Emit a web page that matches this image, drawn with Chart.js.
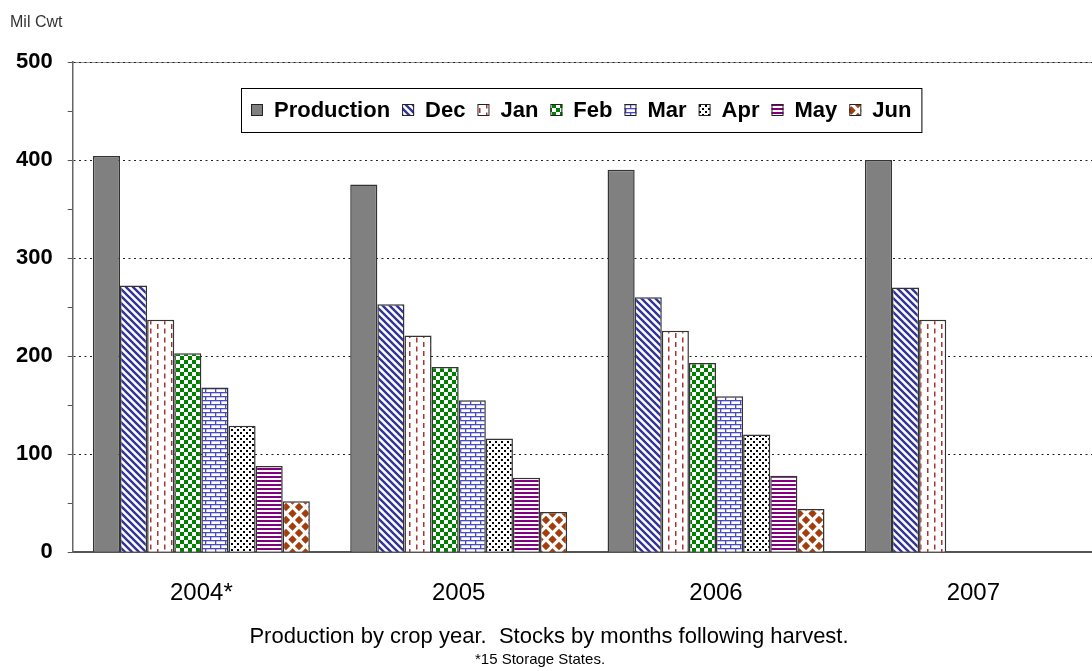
<!DOCTYPE html>
<html>
<head>
<meta charset="utf-8">
<title>Production and stocks by crop year</title>
<script src="https://cdn.jsdelivr.net/npm/chart.js@4/dist/chart.umd.min.js"></script>
<style>
  html, body { margin: 0; padding: 0; background: #fff; overflow: hidden; }
  #wrap { width: 1102px; height: 671px; }
</style>
</head>
<body>
<div id="wrap"><canvas id="stocksChart"></canvas></div>
<script>
// crop years and series (Mil Cwt)
const categories = ["2004*", "2005", "2006", "2007"];
const seriesNames = ["Production", "Dec", "Jan", "Feb", "Mar", "Apr", "May", "Jun"];
const production = [404, 375, 390, 400];
const dec = [272, 253, 260, 270];
const jan = [237, 221, 226, 237];
const feb = [203, 189, 193, null];
const mar = [168, 155, 159, null];
const apr = [129, 116, 120, null];
const may = [88, 76, 78, null];
const jun = [52, 41, 44, null];
const yTicks = [0, 100, 200, 300, 400, 500];

const FONT = "'Liberation Sans', Arial, sans-serif";
const canvas = document.getElementById("stocksChart");
const mainCtx = canvas.getContext("2d");

function makePattern(w, h, draw) {
    const c = document.createElement("canvas");
    c.width = w;
    c.height = h;
    const p = c.getContext("2d");
    p.fillStyle = "#fff";
    p.fillRect(0, 0, w, h);
    draw(p, w, h);
    return mainCtx.createPattern(c, "repeat");
}

// fills that imitate the old spreadsheet hatch patterns
const fills = [
    "#808080",
    makePattern(7, 7, (p) => {
        p.strokeStyle = "#333399";
        p.lineWidth = 2.4;
        p.beginPath();
        for (let k = -7; k <= 7; k += 7) {
            p.moveTo(k - 1, -1);
            p.lineTo(k + 8, 8);
        }
        p.stroke();
    }),
    makePattern(14, 9, (p) => {
        p.fillStyle = "#a83434";
        p.fillRect(3, 0, 1.5, 5);
        p.fillRect(10, 4.5, 1.5, 4.5);
        p.fillRect(10, 0, 1.5, 0.5);
    }),
    makePattern(8, 8, (p) => {
        p.fillStyle = "#008000";
        p.fillRect(0, 0, 4, 4);
        p.fillRect(4, 4, 4, 4);
    }),
    makePattern(10, 8, (p) => {
        p.fillStyle = "#4b4bc0";
        p.fillRect(0, 0, 10, 1.3);
        p.fillRect(0, 4, 10, 1.3);
        p.fillRect(0, 0, 1.3, 4);
        p.fillRect(5, 4, 1.3, 4);
    }),
    makePattern(6, 6, (p) => {
        p.fillStyle = "#000";
        p.fillRect(0, 0, 2, 2);
        p.fillRect(3, 3, 2, 2);
    }),
    makePattern(4, 4, (p) => {
        p.fillStyle = "#800080";
        p.fillRect(0, 0, 4, 2);
    }),
    makePattern(13, 13, (p) => {
        p.fillStyle = "#a33d0b";
        const r = 4.2;
        [[0, 0], [13, 0], [0, 13], [13, 13], [6.5, 6.5]].forEach(([cx, cy]) => {
            p.beginPath();
            p.moveTo(cx, cy - r);
            p.lineTo(cx + r, cy);
            p.lineTo(cx, cy + r);
            p.lineTo(cx - r, cy);
            p.closePath();
            p.fill();
        });
    })
];

const seriesValues = [production, dec, jan, feb, mar, apr, may, jun];

const datasets = seriesNames.map((name, i) => ({
    label: name,
    data: seriesValues[i],
    backgroundColor: fills[i],
    borderColor: "#333",
    borderWidth: 1.5,
    categoryPercentage: 0.843,
    barPercentage: 1.0
}));

// legend drawn as a framed row inside the plot area
const boxLegend = {
    id: "boxLegend",
    afterDraw(chart) {
        const ctx = chart.ctx;
        const area = chart.chartArea;
        const sets = chart.data.datasets;
        const sq = 12, gapIn = 11, gapOut = 12, padX = 10, h = 44;
        ctx.save();
        ctx.font = "bold 22px " + FONT;
        const widths = sets.map(ds => ctx.measureText(ds.label).width);
        let total = padX * 2;
        widths.forEach((w, i) => {
            total += sq + gapIn + w + (i < sets.length - 1 ? gapOut : 0);
        });
        const x0 = Math.round(581 - total / 2);
        const y0 = area.top + 26;
        ctx.fillStyle = "#fff";
        ctx.fillRect(x0, y0, total, h);
        ctx.strokeStyle = "#000";
        ctx.lineWidth = 1;
        ctx.strokeRect(x0 + 0.5, y0 + 0.5, total, h);
        let x = x0 + padX;
        const cy = y0 + h / 2;
        ctx.textBaseline = "middle";
        ctx.textAlign = "left";
        sets.forEach((ds, i) => {
            ctx.fillStyle = ds.backgroundColor;
            ctx.fillRect(x, cy - sq / 2, sq, sq);
            ctx.strokeStyle = "#222";
            ctx.strokeRect(x + 0.5, cy - sq / 2 + 0.5, sq - 1, sq - 1);
            x += sq + gapIn;
            ctx.fillStyle = "#000";
            ctx.fillText(ds.label, x, cy + 1);
            x += widths[i] + gapOut;
        });
        ctx.restore();
    }
};

// gray frame line at the top of the plot, under the dotted grid
const plotFrame = {
    id: "plotFrame",
    beforeDraw(chart) {
        const ctx = chart.ctx;
        const a = chart.chartArea;
        ctx.save();
        ctx.strokeStyle = "#999";
        ctx.lineWidth = 1;
        ctx.beginPath();
        ctx.moveTo(a.left, a.top + 0.5);
        ctx.lineTo(a.right, a.top + 0.5);
        ctx.stroke();
        ctx.restore();
    }
};

// unit label and the two footnote lines
const notes = {
    id: "notes",
    afterDraw(chart) {
        const ctx = chart.ctx;
        ctx.save();
        ctx.fillStyle = "#333";
        ctx.font = "16px " + FONT;
        ctx.textAlign = "left";
        ctx.textBaseline = "alphabetic";
        ctx.fillText("Mil Cwt", 10, 27);
        ctx.fillStyle = "#000";
        ctx.textAlign = "center";
        ctx.font = "22px " + FONT;
        ctx.fillText("Production by crop year.  Stocks by months following harvest.", 549, chart.height - 28);
        ctx.font = "15px " + FONT;
        ctx.fillText("*15 Storage States.", 540, chart.height - 7);
        ctx.restore();
    }
};

new Chart(canvas, {
    type: "bar",
    data: {
        labels: categories,
        datasets: datasets
    },
    options: {
        responsive: true,
        maintainAspectRatio: false,
        animation: false,
        layout: { padding: { left: 1, top: 62, right: 0, bottom: 44 } },
        plugins: {
            legend: { display: false },
            tooltip: { enabled: false },
            title: { display: false }
        },
        scales: {
            x: {
                grid: { display: false },
                border: { display: true, color: "#555", width: 2 },
                ticks: {
                    color: "#000",
                    font: { family: FONT, size: 24 },
                    padding: 19,
                    maxRotation: 0
                }
            },
            y: {
                min: yTicks[0],
                max: yTicks[yTicks.length - 1],
                grid: {
                    color: (c) => (c.tick && yTicks.includes(c.tick.value) ? "#222" : "rgba(0,0,0,0)"),
                    lineWidth: 1,
                    drawTicks: true,
                    tickLength: 5,
                    tickColor: "#555"
                },
                border: { display: true, color: "#666", width: 1.5, dash: [2, 3.5] },
                ticks: {
                    stepSize: 50,
                    autoSkip: false,
                    color: "#000",
                    padding: 15,
                    font: { family: FONT, size: 22, weight: "bold" },
                    callback: (v) => (yTicks.includes(v) ? String(v) : "")
                }
            }
        }
    },
    plugins: [plotFrame, boxLegend, notes]
});
</script>
</body>
</html>
